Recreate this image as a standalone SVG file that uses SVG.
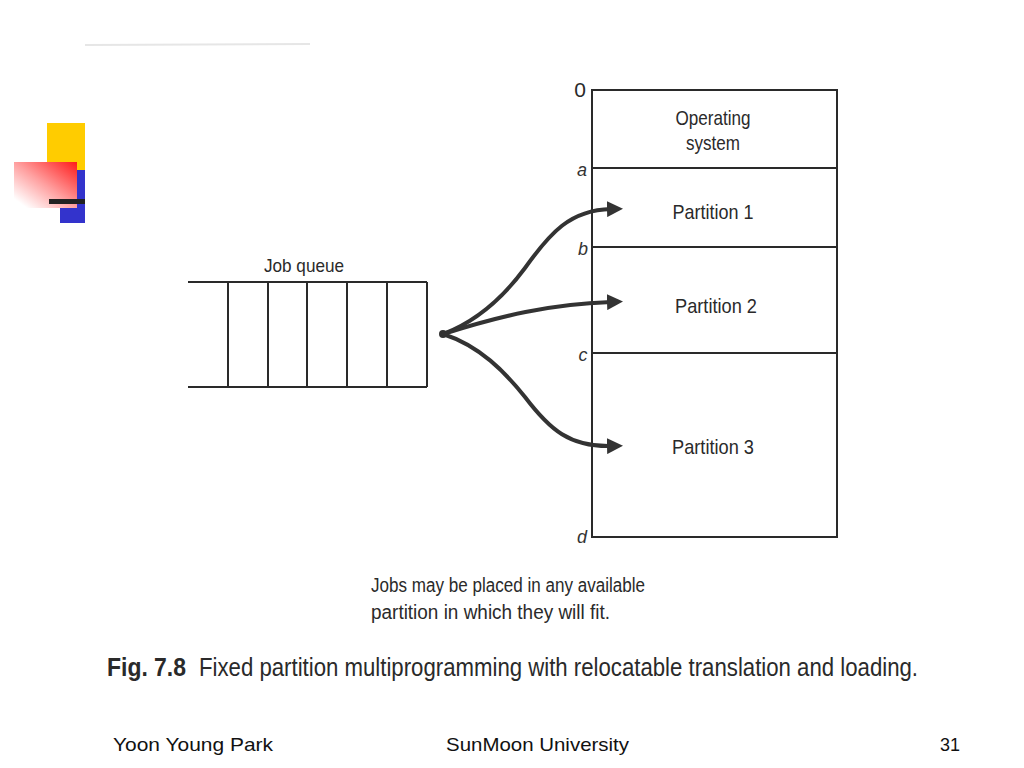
<svg xmlns="http://www.w3.org/2000/svg" width="1024" height="768" viewBox="0 0 1024 768">
<defs>
<linearGradient id="redfade" x1="1" y1="0" x2="0" y2="1">
<stop offset="0" stop-color="#ff1a1a"/>
<stop offset="0.5" stop-color="#ffa0a0"/>
<stop offset="0.9" stop-color="#ffffff"/>
</linearGradient>
<marker id="arr" markerWidth="4" markerHeight="4" refX="1" refY="2" orient="auto" markerUnits="strokeWidth" viewBox="0 0 4 4">
<path d="M0,0 L4,2 L0,4 Z" fill="#333"/>
</marker>
<style>
.t{font-family:"Liberation Sans",Arial,sans-serif;fill:#2a2a2a}
.ln{stroke:#2a2a2a;stroke-width:2;fill:none}
.lbl{font-family:"Liberation Sans",Arial,sans-serif;font-style:italic;fill:#333;font-size:18px}
.arrow{stroke:#333;stroke-width:4;fill:none;stroke-linecap:round;marker-end:url(#arr)}
.foot{font-family:"Liberation Sans",Arial,sans-serif;fill:#111;font-size:19px}
</style>
</defs>
<rect width="1024" height="768" fill="#fff"/>
<line x1="85" y1="45" x2="310" y2="44" stroke="#e6e6e6" stroke-width="2"/>
<g id="decoration">
<rect x="47" y="123" width="38" height="47" fill="#ffcc00"/>
<rect x="60" y="170" width="25" height="53" fill="#3333cc"/>
<rect x="14" y="162" width="63" height="46" fill="url(#redfade)"/>
<rect x="49" y="199" width="36" height="5" fill="#222"/>
</g>
<g id="job-queue">
<text class="t" x="304" y="272" font-size="19" text-anchor="middle" textLength="80" lengthAdjust="spacingAndGlyphs">Job queue</text>
<line class="ln" x1="188" y1="282" x2="427" y2="282"/>
<line class="ln" x1="188" y1="387" x2="427" y2="387"/>
<line class="ln" x1="228" y1="282" x2="228" y2="387"/>
<line class="ln" x1="268" y1="282" x2="268" y2="387"/>
<line class="ln" x1="307" y1="282" x2="307" y2="387"/>
<line class="ln" x1="347" y1="282" x2="347" y2="387"/>
<line class="ln" x1="387" y1="282" x2="387" y2="387"/>
<line class="ln" x1="427" y1="282" x2="427" y2="387"/>
</g>
<g id="memory">
<rect x="592" y="90" width="245" height="447" class="ln"/>
<line class="ln" x1="592" y1="168" x2="837" y2="168"/>
<line class="ln" x1="592" y1="247" x2="837" y2="247"/>
<line class="ln" x1="592" y1="353" x2="837" y2="353"/>
<text class="t" x="580" y="97" font-size="21" text-anchor="middle">0</text>
<text class="lbl" x="582" y="176" text-anchor="middle">a</text>
<text class="lbl" x="583" y="255" text-anchor="middle">b</text>
<text class="lbl" x="583" y="361" text-anchor="middle">c</text>
<text class="lbl" x="582" y="543" text-anchor="middle">d</text>
</g>
<g id="os">
<text class="t" x="713" y="125" font-size="21" text-anchor="middle" textLength="75" lengthAdjust="spacingAndGlyphs">Operating</text>
<text class="t" x="713" y="150" font-size="21" text-anchor="middle" textLength="54" lengthAdjust="spacingAndGlyphs">system</text>
</g>
<g id="partition1">
<text class="t" x="713" y="219" font-size="21" text-anchor="middle" textLength="81" lengthAdjust="spacingAndGlyphs">Partition 1</text>
</g>
<g id="partition2">
<text class="t" x="716" y="313" font-size="21" text-anchor="middle" textLength="82" lengthAdjust="spacingAndGlyphs">Partition 2</text>
</g>
<g id="partition3">
<text class="t" x="713" y="454" font-size="21" text-anchor="middle" textLength="82" lengthAdjust="spacingAndGlyphs">Partition 3</text>
</g>
<g id="connectors">
<circle cx="443" cy="334" r="4" fill="#333"/>
<path class="arrow" d="M443,334 C480,320 505,295 525,268 C550,233 570,210 611,209"/>
<path class="arrow" d="M443,334 C500,316 550,304 611,302"/>
<path class="arrow" d="M443,334 C480,346 505,372 525,397 C550,430 570,447 611,446"/>
</g>
<g id="note">
<text class="t" x="371" y="592" font-size="20" textLength="274" lengthAdjust="spacingAndGlyphs">Jobs may be placed in any available</text>
<text class="t" x="371" y="619" font-size="20" textLength="239" lengthAdjust="spacingAndGlyphs">partition in which they will fit.</text>
</g>
<g id="caption">
<text class="t" x="107" y="676" font-size="25" font-weight="bold" textLength="79" lengthAdjust="spacingAndGlyphs">Fig. 7.8</text>
<text class="t" x="199" y="676" font-size="25" textLength="719" lengthAdjust="spacingAndGlyphs">Fixed partition multiprogramming with relocatable translation and loading.</text>
</g>
<g id="footer">
<text class="foot" x="113" y="751" textLength="160" lengthAdjust="spacingAndGlyphs">Yoon Young Park</text>
<text class="foot" x="446" y="751" textLength="183" lengthAdjust="spacingAndGlyphs">SunMoon University</text>
<text class="foot" x="940" y="751" textLength="20" lengthAdjust="spacingAndGlyphs">31</text>
</g>
</svg>
